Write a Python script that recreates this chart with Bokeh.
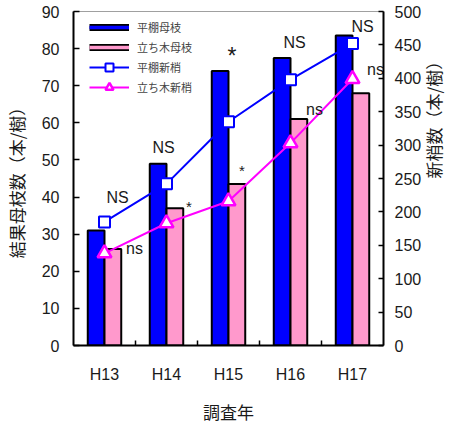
import math
from bokeh.plotting import figure
from bokeh.models import (ColumnDataSource, Range1d, LinearAxis, FixedTicker,
                          Legend, LegendItem)
from bokeh.transform import dodge
from bokeh.embed import file_html
from bokeh.resources import INLINE

# 調査年
years = ["H13", "H14", "H15", "H16", "H17"]
# 結果母枝数（本/樹）
flat_canes = [31, 49, 74, 77.5, 83.5]        # 平棚母枝
upright_canes = [26, 37, 43.5, 61, 68]       # 立ち木母枝
# 新梢数（本/樹）
flat_shoots = [185, 242, 335, 398, 452]      # 平棚新梢
upright_shoots = [138, 183, 216, 303, 399]   # 立ち木新梢
# 有意差
flat_sig = ["NS", "NS", "*", "NS", "NS"]
upright_sig = ["ns", "*", "*", "ns", "ns"]

xs = list(range(1, len(years) + 1))

# label placement (screen px) relative to each bar top
flat_dx = [13, -3, 3.5, 4, 10]
flat_dy = [-33, -16, -15, -15, -9]
up_dx = [30, 22.5, 13.5, 24, 23]
up_dy = [-1, -2, -14, -10, -24]

def sig_size(s, big):
    if s == "*":
        return "23px" if big else "15px"
    return "16px"

src = ColumnDataSource(dict(
    x=xs, flat=flat_canes, up=upright_canes,
    fs=flat_shoots, us=upright_shoots,
    fsig=flat_sig, usig=upright_sig,
    fdx=flat_dx, fdy=flat_dy, udx=up_dx, udy=up_dy,
    fsz=[sig_size(s, True) for s in flat_sig],
    usz=[sig_size(s, False) for s in upright_sig],
))

p = figure(width=461, height=426, output_backend="svg", toolbar_location=None,
           x_range=Range1d(0.5, 5.5), y_range=Range1d(0, 90),
           min_border_left=73, min_border_right=72,
           min_border_top=11, min_border_bottom=81)
p.xgrid.visible = False
p.ygrid.visible = False
p.outline_line_color = "#a0a0a0"
p.outline_line_width = 1
p.background_fill_color = "white"

tick_font = "Liberation Sans"
cjk_font = "Noto Sans CJK JP"
ink = "#1a1a1a"

# bottom axis: labels at centres, short inward ticks at category boundaries
xa = p.xaxis[0]
xa.ticker = FixedTicker(ticks=xs, minor_ticks=[i + 0.5 for i in xs[:-1]])
xa.major_label_overrides = {i: y for i, y in zip(xs, years)}
xa.major_tick_in = 0
xa.major_tick_out = 0
xa.minor_tick_in = 5
xa.minor_tick_out = 0
xa.minor_tick_line_width = 1.5
xa.minor_tick_line_color = "black"
xa.axis_line_width = 2
xa.major_label_standoff = 20
xa.axis_label = "調査年"
xa.axis_label_standoff = 13

# left axis
ya = p.yaxis[0]
ya.ticker = FixedTicker(ticks=list(range(0, 91, 10)))
ya.major_tick_in = 6
ya.major_tick_out = 0
ya.minor_tick_line_color = None
ya.axis_line_width = 2
ya.major_tick_line_width = 1.5
ya.major_label_standoff = 14
ya.axis_label = "結果母枝数（本/樹）"
ya.axis_label_standoff = 10

# right axis for shoot counts, title reading bottom-to-top
p.extra_y_ranges = {"shoots": Range1d(0, 500)}
ra = LinearAxis(y_range_name="shoots",
                ticker=FixedTicker(ticks=list(range(0, 501, 50))))
ra.major_tick_in = 5
ra.major_tick_out = 0
ra.minor_tick_line_color = None
ra.axis_line_width = 2
ra.major_tick_line_width = 1.5
ra.major_label_standoff = 11
ra.axis_label = "新梢数（本/樹）"
ra.axis_label_standoff = 9
ra.axis_label_orientation = math.pi / 2
p.add_layout(ra, "right")

for ax in (xa, ya, ra):
    ax.major_label_text_font = tick_font
    ax.major_label_text_font_size = "16px"
    ax.major_label_text_color = ink
    ax.axis_label_text_font = cjk_font
    ax.axis_label_text_font_size = "17px"
    ax.axis_label_text_font_style = "normal"
    ax.axis_label_text_color = ink
    ax.axis_line_color = "black"
    ax.major_tick_line_color = "black"

# bars
bw = 0.27
b_flat = p.vbar(x=dodge("x", -bw / 2, range=p.x_range), top="flat", width=bw,
                source=src, fill_color="#0000ff", line_color="black", line_width=2)
b_up = p.vbar(x=dodge("x", bw / 2, range=p.x_range), top="up", width=bw,
              source=src, fill_color="#ff99cc", line_color="black", line_width=2)

# shoot lines
l_flat = p.line("x", "fs", source=src, y_range_name="shoots",
                line_color="#0000ff", line_width=2)
m_flat = p.scatter("x", "fs", source=src, y_range_name="shoots", marker="square",
                   size=11, fill_color="white", line_color="#0000ff", line_width=2)
l_up = p.line("x", "us", source=src, y_range_name="shoots",
              line_color="#ff00ff", line_width=2)
m_up = p.scatter("x", "us", source=src, y_range_name="shoots", marker="triangle",
                 size=14, fill_color="white", line_color="#ff00ff", line_width=2.5)

# significance marks
p.text("x", "flat", text="fsig", source=src, x_offset="fdx", y_offset="fdy",
       text_font_size="fsz", text_font=dict(value=tick_font),
       text_align="center", text_baseline="middle", text_color=ink)
p.text("x", "up", text="usig", source=src, x_offset="udx", y_offset="udy",
       text_font_size="usz", text_font=dict(value=tick_font),
       text_align="center", text_baseline="middle", text_color=ink)

# thin outlined swatches for the bar series in the legend (no data points)
nan = [float("nan")]
sw_edge_f = p.line(x=nan, y=nan, line_color="black", line_width=7)
sw_fill_f = p.line(x=nan, y=nan, line_color="#0000ff", line_width=3.5)
sw_edge_u = p.line(x=nan, y=nan, line_color="black", line_width=7)
sw_fill_u = p.line(x=nan, y=nan, line_color="#ff99cc", line_width=3.5)

legend = Legend(items=[
    LegendItem(label="平棚母枝", renderers=[sw_edge_f, sw_fill_f]),
    LegendItem(label="立ち木母枝", renderers=[sw_edge_u, sw_fill_u]),
    LegendItem(label="平棚新梢", renderers=[l_flat, m_flat]),
    LegendItem(label="立ち木新梢", renderers=[l_up, m_up]),
], location=(12, 244), glyph_width=40, glyph_height=20, label_height=20,
    spacing=0, padding=4, margin=0, label_standoff=8,
    label_text_font=cjk_font, label_text_font_size="11px",
    background_fill_alpha=0, border_line_alpha=0)
p.add_layout(legend)

open("out.html", "w").write(file_html(p, INLINE))
